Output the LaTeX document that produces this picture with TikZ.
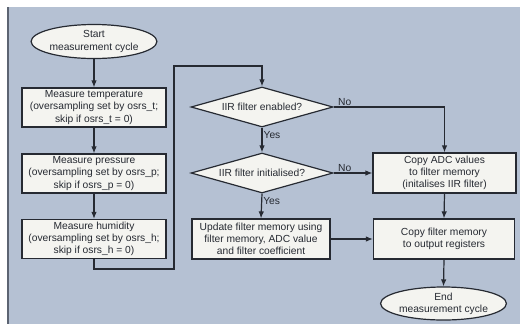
\documentclass[tikz,border=0pt]{standalone}
\usepackage{fontspec}
\setmainfont{Liberation Sans}
\usetikzlibrary{shapes.geometric,arrows.meta}
\definecolor{panel}{RGB}{181,193,211}
\definecolor{paneledge}{RGB}{92,100,114}
\definecolor{boxfill}{RGB}{244,244,240}
\definecolor{ink}{RGB}{38,42,50}
\begin{document}
\begin{tikzpicture}[x=1bp,y=-1bp,
  every node/.style={font=\fontsize{10.3}{12.3}\selectfont, text=ink},
  stepbox/.style={draw=ink, line width=1.2bp, fill=boxfill, rectangle, align=center,
    inner sep=0pt, minimum width=144bp, minimum height=39bp},
  terminal/.style={draw=ink, line width=1.2bp, fill=boxfill, ellipse, align=center,
    inner sep=0pt, minimum width=119bp, minimum height=34bp},
  decision/.style={draw=ink, line width=1.2bp, fill=boxfill, diamond, aspect=3.55,
    inner sep=0pt, minimum width=142bp, minimum height=40bp},
  flow/.style={draw=ink, line width=1.2bp, -{Latex[length=7bp,width=5.5bp]}},
  tag/.style={font=\fontsize{10.3}{12}\selectfont, inner sep=1bp}]

% canvas and shaded panel
\useasboundingbox (0,0) rectangle (520,324);
\fill[white] (0,0) rectangle (520,324);
\fill[panel] (7,7) rectangle (520,324);
\draw[paneledge, line width=2bp] (8,7) -- (8,324);

% left column: measurement steps
\node[terminal] (start) at (94,41.5) {Start\\measurement cycle};
\node[stepbox] (temp) at (94,107.5) {Measure temperature\\(oversampling set by osrs\_t;\\skip if osrs\_t = 0)};
\node[stepbox] (press) at (94,173.5) {Measure pressure\\(oversampling set by osrs\_p;\\skip if osrs\_p = 0)};
\node[stepbox] (hum) at (94,239) {Measure humidity\\(oversampling set by osrs\_h;\\skip if osrs\_h = 0)};

% middle column: IIR filter decisions
\node[decision] (d1) at (262,107) {IIR filter enabled?};
\node[decision] (d2) at (262,173) {IIR filter initialised?};
\node[stepbox, minimum width=138bp, minimum height=40bp] (update) at (261,239)
  {Update filter memory using\\filter memory, ADC value\\and filter coefficient};

% right column: output
\node[stepbox, minimum width=143bp, minimum height=40bp] (copyadc) at (444.5,173)
  {Copy ADC values\\to filter memory\\(initalises IIR filter)};
\node[stepbox, minimum width=141bp, minimum height=40bp] (copyfm) at (444,239)
  {Copy filter memory\\to output registers};
\node[terminal, minimum height=33bp] (end) at (443.5,303.5) {End\\measurement cycle};

% return path from the last measurement to the filter check
\coordinate (r1) at (94,269);
\coordinate (r2) at (174,269);
\coordinate (r3) at (174,66);
\coordinate (r4) at (262,66);

% connectors
\draw[flow] (start) -- (temp);
\draw[flow] (temp) -- (press);
\draw[flow] (press) -- (hum);
\draw[flow] (hum.south) -- (r1) -- (r2) -- (r3) -- (r4) -- (d1.north);
\draw[flow] (d1.south) -- node[pos=0.3, right, tag] {Yes} (d2.north);
\draw[flow] (d1.east) -- node[at start, anchor=south west, xshift=3bp, tag] {No}
  (d1.east -| copyadc.north) -- (copyadc.north);
\draw[flow] (d2.south) -- node[pos=0.3, right, tag] {Yes} (update.north);
\draw[flow] (d2.east) -- node[at start, anchor=south west, xshift=3bp, tag] {No} (copyadc.west);
\draw[flow] (update.east) -- (copyfm.west);
\draw[flow] (copyadc.south) -- (copyfm.north);
\draw[flow] (copyfm.south) -- (end.north);
\end{tikzpicture}
\end{document}
